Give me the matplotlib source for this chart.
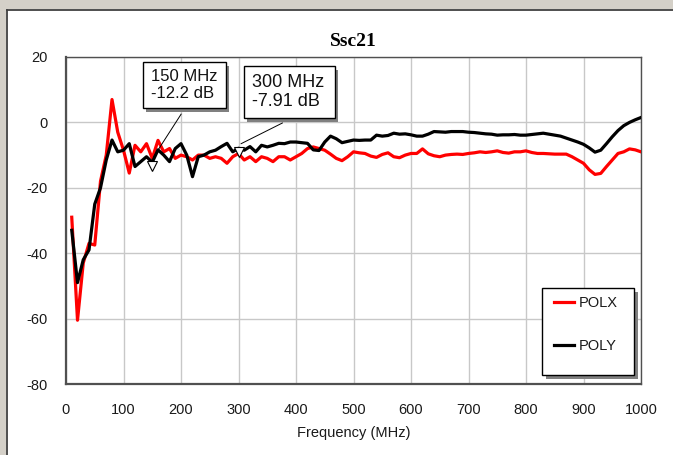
import numpy as np
import matplotlib
matplotlib.use("Agg")
import matplotlib.pyplot as plt
from matplotlib.patches import Rectangle
from matplotlib.lines import Line2D

# frequency grid, MHz
freq = np.arange(10, 1001, 10)

# Ssc21 for the two polarisations, dB
polx = [
    -29, -60.5, -43, -37, -37.5, -18, -10, 7, -3, -8.5,
    -15.5, -7, -9, -6.5, -11, -5.5, -9, -8, -11, -10,
    -10.5, -11.5, -10, -10, -11, -10.5, -11, -12.5, -10.5, -9.5,
    -11.5, -10.5, -12, -10.5, -11, -12, -10.5, -10.5, -11.5, -10.5,
    -9.5, -8, -7.5, -8, -8.5, -9.7, -11, -11.7, -10.5, -9,
    -9.3, -9.5, -10.3, -10.7, -9.8, -9.3, -10.5, -10.8, -10, -9.5,
    -9.5, -8.1, -9.6, -10.2, -10.5, -10, -9.8, -9.7, -9.8, -9.5,
    -9.3, -9, -9.2, -9, -8.7, -9.2, -9.4, -9, -9, -8.7,
    -9.2, -9.5, -9.5, -9.6, -9.7, -9.7, -9.7, -10.5, -11.5, -12.5,
    -14.5, -15.9, -15.6, -13.5, -11.5, -9.5, -9, -8.1, -8.4, -9,
]
poly = [
    -33, -49, -42, -39, -25, -20, -11.5, -5.4, -9, -8.5,
    -6.5, -13.5, -12, -10.5, -12.2, -8.4, -10, -12, -8, -6.5,
    -10, -16.6, -10.5, -10, -9, -8.5, -7.4, -6.4, -9, -7.91,
    -8.5, -7.4, -9, -7, -7.5, -7, -6.4, -6.5, -6, -6,
    -6.2, -6.4, -8.4, -8.6, -6, -4.2, -5, -6.2, -5.8, -5.4,
    -5.5, -5.4, -5.4, -3.9, -4.2, -4, -3.3, -3.6, -3.5, -3.8,
    -4.2, -4.2, -3.6, -2.8, -2.9, -3, -2.8, -2.8, -2.8, -3,
    -3.1, -3.3, -3.5, -3.6, -3.9, -3.8, -3.8, -3.7, -3.9, -3.9,
    -3.7, -3.5, -3.3, -3.6, -3.9, -4.2, -4.8, -5.4, -6, -6.7,
    -7.8, -9.1, -8.5, -6.5, -4.4, -2.5, -1, 0, 0.8, 1.5,
]

# marker readouts on POLY
mark_freq = [150, 300]
mark_text = ["150 MHz\n-12.2 dB", "300 MHz\n-7.91 dB"]

plt.rcParams['font.family'] = ['Liberation Sans', 'DejaVu Sans']
plt.rcParams['axes.unicode_minus'] = False

fig = plt.figure(figsize=(6.73, 4.55), dpi=100)
fig.patch.set_facecolor('white')

# window frame along top and left edges
W, H = 673.0, 455.0
fig.add_artist(Rectangle((0, 1 - 9 / H), 1, 9 / H, transform=fig.transFigure,
                         facecolor='#d4d0c8', edgecolor='none'))
fig.add_artist(Rectangle((0, 0), 6 / W, 1, transform=fig.transFigure,
                         facecolor='#d4d0c8', edgecolor='none'))
fig.add_artist(Line2D([6.5 / W, 1], [1 - 9.5 / H, 1 - 9.5 / H], transform=fig.transFigure,
                      color='#404040', lw=1.3))
fig.add_artist(Line2D([6.5 / W, 6.5 / W], [0, 1 - 9.5 / H], transform=fig.transFigure,
                      color='#404040', lw=1.3))

ax = fig.add_axes([66 / W, 71 / H, 575 / W, 327 / H])
ax.plot(freq, polx, color='#ff0000', lw=2.3, label='POLX', zorder=3)
ax.plot(freq, poly, color='black', lw=2.3, label='POLY', zorder=4)

ax.set_xlim(0, 1000)
ax.set_ylim(-80, 20)
ax.set_xticks(np.arange(0, 1001, 100))
ax.set_yticks(np.arange(-80, 21, 20))
ax.grid(True, color='#c8c8c8', lw=1.0)
ax.set_axisbelow(True)
ax.tick_params(length=0, labelsize=10.5, labelcolor='#1a1a1a')
ax.tick_params(axis='y', pad=13)
ax.tick_params(axis='x', pad=14)
for side in ['top', 'right']:
    ax.spines[side].set_color('#505050')
    ax.spines[side].set_linewidth(1.0)
for side in ['left', 'bottom']:
    ax.spines[side].set_color('#505050')
    ax.spines[side].set_linewidth(1.6)

ax.set_title('Ssc21', fontsize=14, fontweight='bold', family='Liberation Serif', pad=8)
ax.set_xlabel('Frequency (MHz)', fontsize=10.5, color='#1a1a1a', labelpad=6)

# marker triangles and readout boxes
poly_at = dict(zip(freq, poly))
box_xy = [(143, 62, 83, 46), (244, 66, 91, 52)]
box_font = [12, 13]
leader_from = [(182.7, 111.7), (285, 121.7)]
to_px = lambda px, py: ax.transAxes.inverted().transform(
    fig.transFigure.transform((px / W, 1 - py / H)))
for f, txt, (bx, by, bw, bh), fs, lf in zip(mark_freq, mark_text, box_xy, box_font, leader_from):
    v = poly_at[f]
    ax.plot([f], [v - 1], marker='v', ms=7, mfc='white', mec='black', mew=0.8, zorder=6)
    x0, y0 = to_px(bx, by + bh)
    x1, y1 = to_px(bx + bw, by)
    ax.add_patch(Rectangle((x0 + 0.006, y0 - 0.011), x1 - x0, y1 - y0, transform=ax.transAxes,
                           facecolor='#808080', edgecolor='none', zorder=7, clip_on=False))
    ax.add_patch(Rectangle((x0, y0), x1 - x0, y1 - y0, transform=ax.transAxes,
                           facecolor='white', edgecolor='black', lw=1.0, zorder=8, clip_on=False))
    ax.text(x0 + 0.014, (y0 + y1) / 2, txt, transform=ax.transAxes, fontsize=fs,
            va='center', ha='left', linespacing=1.15, zorder=9, color='#111111')
    lx, ly = to_px(*lf)
    ax.annotate('', xy=(f, v + 1), xycoords='data', xytext=(lx, ly), textcoords='axes fraction',
                arrowprops=dict(arrowstyle='-', color='black', lw=0.7), zorder=6)

# legend with drop shadow
lx0, ly0 = to_px(541.7, 375)
lx1, ly1 = to_px(634.3, 288.3)
ax.add_patch(Rectangle((lx0 + 0.007, ly0 - 0.012), lx1 - lx0, ly1 - ly0, transform=ax.transAxes,
                       facecolor='#808080', edgecolor='none', zorder=7))
ax.add_patch(Rectangle((lx0, ly0), lx1 - lx0, ly1 - ly0, transform=ax.transAxes,
                       facecolor='white', edgecolor='black', lw=1.0, zorder=8))
leg = ax.legend(loc='upper left', bbox_to_anchor=to_px(548, 290), borderaxespad=0,
                frameon=False, fontsize=10.5, handlelength=1.4, handletextpad=0.3,
                labelspacing=2.0)
leg.set_zorder(9)
for t in leg.get_texts():
    t.set_color('#1a1a1a')

fig.savefig('out.png', dpi=100)
